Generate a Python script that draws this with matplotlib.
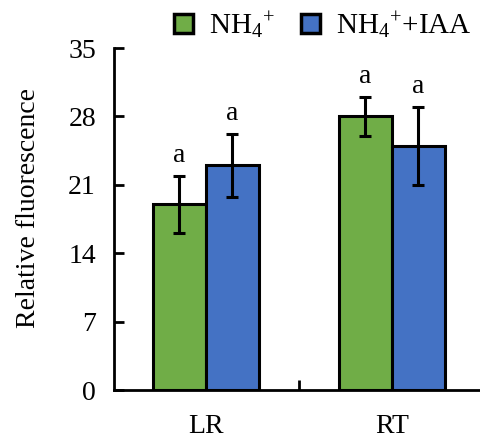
import matplotlib
matplotlib.use("Agg")
import matplotlib.pyplot as plt
from matplotlib.patches import Patch
import numpy as np

categories = ["LR", "RT"]
series_names = [r"NH$_4$$^{+}$", r"NH$_4$$^{+}$+IAA"]
nh4 = [19.0, 28.0]
nh4_err = [2.9, 2.0]
nh4_iaa = [23.0, 25.0]
nh4_iaa_err = [3.2, 4.0]
letters_nh4 = ["a", "a"]
letters_iaa = ["a", "a"]
yticks = [0, 7, 14, 21, 28, 35]

plt.rcParams['font.family'] = ['Liberation Serif', 'DejaVu Serif']
plt.rcParams['mathtext.fontset'] = 'custom'
plt.rcParams['mathtext.rm'] = 'Liberation Serif'
plt.rcParams['mathtext.it'] = 'Liberation Serif:italic'

green = "#70AD47"
blue = "#4472C4"

fig = plt.figure(figsize=(4.8, 4.4), dpi=100)
ax = fig.add_axes([0.2375, 0.1136, 0.7625, 0.7773])

x = np.arange(len(categories))
w = 0.285
ekw = dict(elinewidth=2.2, capthick=2.2, ecolor='black')
ax.bar(x - w/2, nh4, w, color=green, edgecolor='black', linewidth=2.2,
       yerr=nh4_err, capsize=4.5, error_kw=ekw, zorder=2)
ax.bar(x + w/2, nh4_iaa, w, color=blue, edgecolor='black', linewidth=2.2,
       yerr=nh4_iaa_err, capsize=4.5, error_kw=ekw, zorder=2)

for xi, v, e, t in zip(x - w/2, nh4, nh4_err, letters_nh4):
    ax.annotate(t, (xi, v + e), xytext=(0, 10), textcoords='offset points',
                ha='center', va='baseline', fontsize=20)
for xi, v, e, t in zip(x + w/2, nh4_iaa, nh4_iaa_err, letters_iaa):
    ax.annotate(t, (xi, v + e), xytext=(0, 10), textcoords='offset points',
                ha='center', va='baseline', fontsize=20)

ax.set_ylim(0, 35)
ax.set_xlim(-0.495, 1.475)
ax.set_yticks(yticks)
ax.set_xticks(x)
ax.set_xticklabels(categories)
ax.set_xticks([0.5], minor=True)
ax.tick_params(axis='x', which='major', length=0, labelsize=20, pad=17)
ax.tick_params(axis='x', which='minor', direction='in', length=7, width=2)
ax.tick_params(axis='y', direction='in', length=7, width=2, labelsize=20, pad=13)
for s in ['top', 'right']:
    ax.spines[s].set_visible(False)
for s in ['left', 'bottom']:
    ax.spines[s].set_linewidth(2)
ax.set_ylabel("Relative fluorescence", fontsize=20)
ax.yaxis.set_label_coords(-0.2, 0.532)

handles = [Patch(facecolor=green, edgecolor='black', linewidth=2.5),
           Patch(facecolor=blue, edgecolor='black', linewidth=2.5)]
fig.legend(handles, series_names, loc='upper left', bbox_to_anchor=(0.308, 1.038),
           ncol=2, frameon=False, fontsize=21, handlelength=0.65, handleheight=0.65,
           handletextpad=0.55, columnspacing=0.9)

fig.savefig("out.png", dpi=100)
